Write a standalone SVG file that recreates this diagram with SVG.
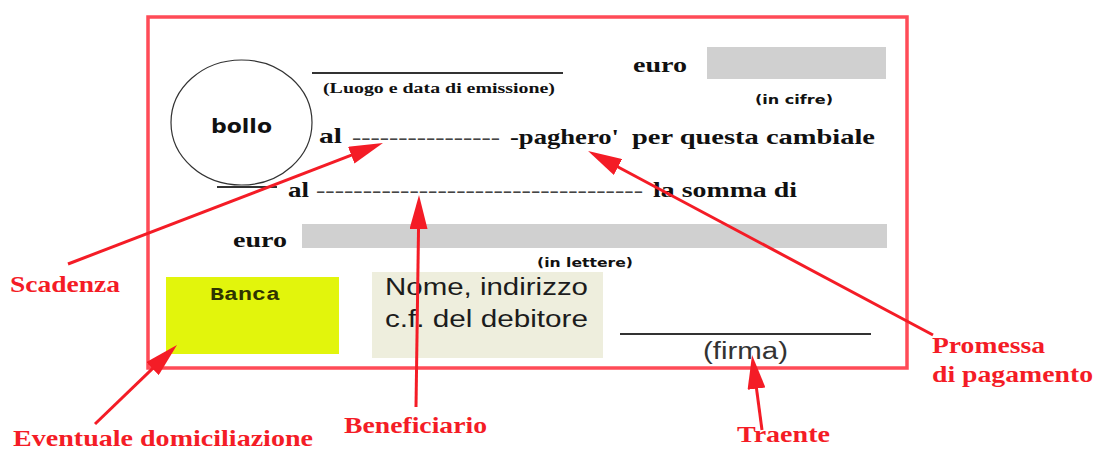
<svg xmlns="http://www.w3.org/2000/svg" width="1097" height="450" viewBox="0 0 1097 450">
<style>
.form{font-family:"Liberation Serif","Times New Roman",serif;font-weight:bold;font-size:22px;fill:#111}
.dash{font-family:"Liberation Serif","Times New Roman",serif;font-size:22px;fill:#444}
.small{font-family:"DejaVu Sans",sans-serif;font-weight:bold;font-size:13px;fill:#111}
.sans{font-family:"Liberation Sans",Arial,sans-serif;font-size:23px;fill:#1c1c1c}
.lbl{font-family:"Liberation Serif","Times New Roman",serif;font-weight:bold;font-size:23px;fill:#f41c26}
.rule{stroke:#333;stroke-width:2}
.conn{stroke:#f41c26;stroke-width:3;fill:none;marker-end:url(#ah)}
</style>
<defs>
<marker id="ah" markerUnits="userSpaceOnUse" viewBox="0 0 34 18" refX="26" refY="9" markerWidth="34" markerHeight="18" orient="auto">
<path d="M0,0 L34,9 L0,18 Z" fill="#f41c26"/>
</marker>
</defs>
<rect width="1097" height="450" fill="#fff"/>

<g id="cambiale">
<rect x="148" y="17" width="759" height="351" fill="none" stroke="#ff4b57" stroke-width="3.5"/>
</g>

<g id="bollo">
<ellipse cx="241.5" cy="122.5" rx="70.5" ry="62.5" fill="none" stroke="#333" stroke-width="1.2"/>
<text class="small" x="211" y="133" style="font-size:20px" fill="#222" textLength="61" lengthAdjust="spacingAndGlyphs">bollo</text>
<line class="rule" x1="217" y1="187" x2="277" y2="187"/>
</g>

<g id="luogo-data">
<line class="rule" x1="312" y1="73" x2="563" y2="73"/>
<text class="form" x="323" y="93" style="font-size:15px" textLength="232" lengthAdjust="spacingAndGlyphs">(Luogo e data di emissione)</text>
</g>

<g id="importo-cifre">
<text class="form" x="633" y="72" textLength="54" lengthAdjust="spacingAndGlyphs">euro</text>
<rect x="707" y="47" width="179" height="32" fill="#d0d0d0"/>
<text class="small" x="755" y="104" textLength="78" lengthAdjust="spacingAndGlyphs">(in cifre)</text>
</g>

<g id="riga-scadenza">
<text class="form" x="319" y="143" textLength="23" lengthAdjust="spacingAndGlyphs">al</text>
<text class="dash" x="352" y="144" textLength="148" lengthAdjust="spacingAndGlyphs">----------------</text>
<text class="form" x="510" y="144" textLength="109" lengthAdjust="spacingAndGlyphs">-paghero'</text>
<text class="form" x="632" y="144" textLength="243" lengthAdjust="spacingAndGlyphs">per questa cambiale</text>
</g>

<g id="riga-beneficiario">
<text class="form" x="288" y="197" textLength="21" lengthAdjust="spacingAndGlyphs">al</text>
<text class="dash" x="316" y="197" textLength="327" lengthAdjust="spacingAndGlyphs">-----------------------------------</text>
<text class="form" x="653" y="197" textLength="144" lengthAdjust="spacingAndGlyphs">la somma di</text>
</g>

<g id="importo-lettere">
<text class="form" x="233" y="247" textLength="54" lengthAdjust="spacingAndGlyphs">euro</text>
<rect x="302" y="224" width="585" height="24" fill="#d0d0d0"/>
<text class="small" x="537" y="267" textLength="96" lengthAdjust="spacingAndGlyphs">(in lettere)</text>
</g>

<g id="banca">
<rect x="166" y="277" width="173" height="77" fill="#e2f50c"/>
<text x="210" y="300" font-family="'Liberation Mono','Courier New',monospace" font-weight="bold" font-size="18" fill="#2e3300" textLength="70" lengthAdjust="spacingAndGlyphs">Banca</text>
</g>

<g id="debitore">
<rect x="372" y="272" width="231" height="86" fill="#eeeedd"/>
<text class="sans" x="385" y="295" textLength="203" lengthAdjust="spacingAndGlyphs">Nome, indirizzo</text>
<text class="sans" x="385" y="327" textLength="203" lengthAdjust="spacingAndGlyphs">c.f. del debitore</text>
</g>

<g id="firma">
<line class="rule" x1="620" y1="334" x2="871" y2="334"/>
<text class="sans" x="703" y="359" style="fill:#333" textLength="85" lengthAdjust="spacingAndGlyphs">(firma)</text>
</g>

<g id="label-scadenza"><text class="lbl" x="10" y="292" textLength="110" lengthAdjust="spacingAndGlyphs">Scadenza</text></g>
<g id="label-domiciliazione"><text class="lbl" x="13" y="446" textLength="300" lengthAdjust="spacingAndGlyphs">Eventuale domiciliazione</text></g>
<g id="label-beneficiario"><text class="lbl" x="344" y="433" textLength="143" lengthAdjust="spacingAndGlyphs">Beneficiario</text></g>
<g id="label-traente"><text class="lbl" x="737" y="442" textLength="93" lengthAdjust="spacingAndGlyphs">Traente</text></g>
<g id="label-promessa">
<text class="lbl" x="932" y="353" textLength="113" lengthAdjust="spacingAndGlyphs">Promessa</text>
<text class="lbl" x="932" y="382" textLength="161" lengthAdjust="spacingAndGlyphs">di pagamento</text>
</g>

<g id="connectors">
<line class="conn" x1="68" y1="264" x2="375.5" y2="145.9"/>
<line class="conn" x1="95" y1="424" x2="171.2" y2="350.6"/>
<line class="conn" x1="416" y1="407" x2="418.9" y2="203"/>
<line class="conn" x1="762" y1="430" x2="753.1" y2="362.9"/>
<line class="conn" x1="933" y1="335" x2="595.1" y2="154.8"/>
</g>
</svg>
